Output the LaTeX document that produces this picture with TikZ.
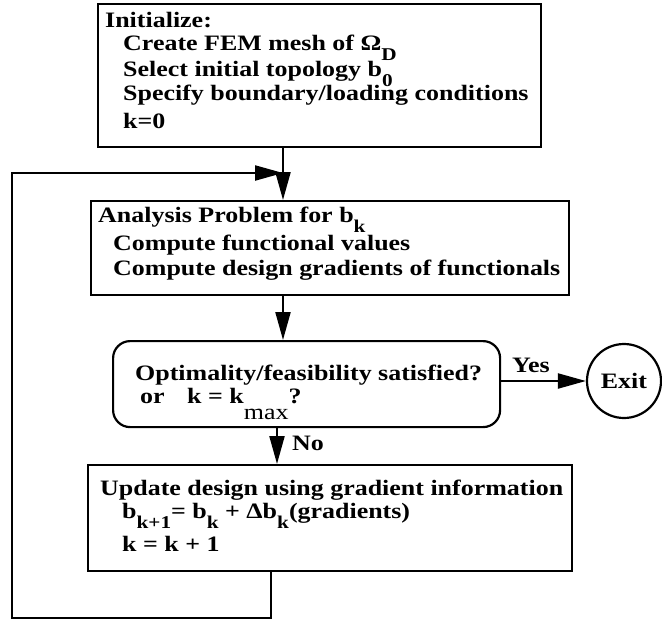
\documentclass[tikz,border=0pt]{standalone}
\usepackage{fontspec}
\setmainfont{Liberation Serif}[FakeStretch=1.18]
\usetikzlibrary{arrows.meta}
\newcommand\sbx[1]{\raisebox{-10pt}{\fontsize{18}{18}\selectfont #1}}
\tikzset{
  box/.style={draw, line width=2.2pt, inner sep=0pt, anchor=north west},
  txt/.style={inner sep=0pt, anchor=base west, font=\bfseries\fontsize{22}{25}\selectfont},
  arr/.style={line width=2.2pt, -{Triangle[length=28pt,width=15pt]}},
}
\begin{document}
\begin{tikzpicture}[x=1pt,y=-1pt]
\useasboundingbox (0,0) rectangle (662,622);
% boxes
\node[box, minimum width=443pt, minimum height=143pt] (init) at (97,3) {};
\node[box, minimum width=478pt, minimum height=94pt] (ana) at (90,200) {};
\node[box, rounded corners=17pt, minimum width=387pt, minimum height=86pt] (dec) at (112,340) {};
\node[box, minimum width=484pt, minimum height=106pt] (upd) at (87,464) {};
\node[draw, line width=2.2pt, circle, minimum size=74pt, inner sep=0pt,
      font=\bfseries\fontsize{22}{25}\selectfont] (exit) at (624,381) {Exit};
% texts
\node[txt] (t1) at (105,27) {Initialize:};
\node[txt] (t2) at (123,50) {Create FEM mesh of Ω\sbx{D}};
\node[txt] (t3) at (123,76) {Select initial topology b\sbx{0}};
\node[txt] (t4) at (123,100) {Specify boundary/loading conditions};
\node[txt] (t5) at (123,128) {k=0};
\node[txt] (t6) at (98,222) {Analysis Problem for b\sbx{k}};
\node[txt] (t7) at (113,250) {Compute functional values};
\node[txt] (t8) at (113,275) {Compute design gradients of functionals};
\node[txt] (t9) at (135,380) {Optimality/feasibility satisfied?};
\node[txt] (t10) at (140,403) {or};
\node[txt] (t11) at (187,403) {k = k\raisebox{-16pt}{\mdseries\fontsize{22}{22}\selectfont max}?};
\node[txt] (t12) at (100,495) {Update design using gradient information};
\node[txt] (t13) at (122,518) {b\sbx{k+1}= b\sbx{k} + Δb\sbx{k}(gradients)};
\node[txt] (t14) at (122,551) {k = k + 1};
\node[txt] (yes) at (512,372) {Yes};
\node[txt] (no) at (292,450) {No};
% connectors
\coordinate (jn) at (283,173);
\coordinate (nx) at (277,0);
\coordinate (fb) at (271,618);
\coordinate (c1) at (12,618);
\coordinate (c2) at (12,173);
\draw[arr] (init.south -| jn) -- (ana.north -| jn);
\draw[arr] (upd.south -| fb) -- (fb) -- (c1) -- (c2) -- (jn);
\draw[arr] (ana.south -| jn) -- (dec.north -| jn);
\draw[arr] (dec.south -| nx) -- (upd.north -| nx);
\draw[arr] (exit.west -| dec.east) -- (exit.west);
\end{tikzpicture}
\end{document}
